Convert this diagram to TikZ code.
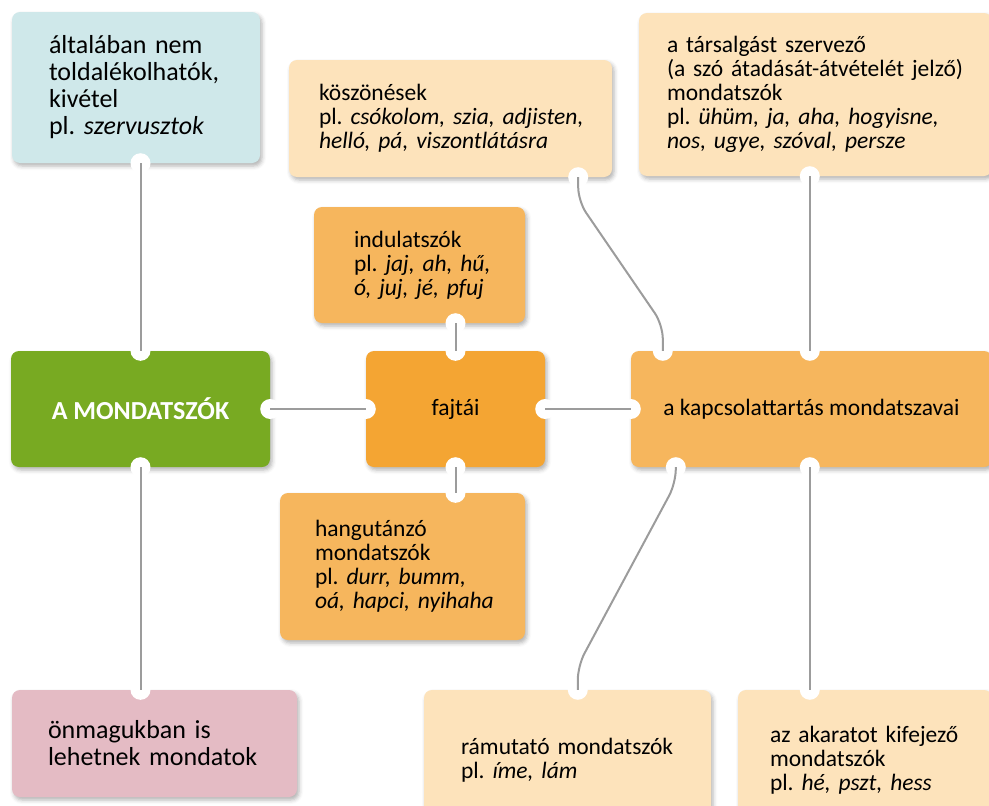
\documentclass[tikz,border=0pt]{standalone}
\usepackage{fontspec}
\setmainfont{Carlito}
\usetikzlibrary{shadows.blur}
\definecolor{tealpale}{HTML}{CFE8EA}
\definecolor{peachpale}{HTML}{FDE3BB}
\definecolor{leafgreen}{HTML}{78AA22}
\definecolor{deeporange}{HTML}{F4A533}
\definecolor{midorange}{HTML}{F6B65D}
\definecolor{rosepale}{HTML}{E4BBC4}
\definecolor{linkgray}{HTML}{9C9C9C}
\hyphenpenalty=10000
\exhyphenpenalty=10000
\frenchspacing
\tikzset{
  tile/.style={rounded corners=8pt, inner ysep=0pt, align=left,
    blur shadow={shadow xshift=2pt, shadow yshift=-3pt, shadow blur radius=4pt, shadow opacity=30}},
  notch/.style={fill=white},
  link/.style={draw=linkgray, line width=2pt},
}
\newcommand{\bigtxt}{\fontsize{26}{27}\selectfont}
\newcommand{\midtxt}{\fontsize{23.5}{24}\selectfont}
\newcommand{\boldtxt}{\fontsize{26}{27}\selectfont\bfseries}

\begin{document}
\begin{tikzpicture}[x=1pt,y=-1pt]
  \useasboundingbox (0,0) rectangle (989,806);
  % side notes
  \node[tile, fill=tealpale, font=\bigtxt, text width=174pt, inner xsep=37pt, minimum height=151pt] (alt) at (136,87.5)
    {általában~nem\\toldalékolhatók,\\kivétel\\pl.~\textit{szervusztok}};
  \node[tile, fill=rosepale, font=\bigtxt, text width=213pt, inner xsep=36pt, minimum height=107pt] (onm) at (154.5,743.5)
    {önmagukban~is\\lehetnek~mondatok};
  % main row
  \node[tile, fill=leafgreen, font=\boldtxt, text=white, align=center, minimum width=259pt, minimum height=116pt] (mond) at (140.5,409)
    {A MONDATSZÓK};
  \node[tile, fill=deeporange, font=\midtxt, align=center, minimum width=179pt, minimum height=116pt] (fajt) at (455.5,409)
    {fajtái};
  \node[tile, fill=midorange, font=\midtxt, align=center, minimum width=361pt, minimum height=116pt] (kap) at (811.5,409)
    {a kapcsolattartás mondatszavai};
  % kinds
  \node[tile, fill=midorange, font=\midtxt, text width=131pt, inner xsep=40pt, minimum height=116pt] (indul) at (419.5,265)
    {indulatszók\\pl.~\textit{jaj,~ah,~hű,}\\\textit{ó,~juj,~jé,~pfuj}};
  \node[tile, fill=midorange, font=\midtxt, text width=175pt, inner xsep=35pt, minimum height=147pt] (hang) at (402.5,566.5)
    {hangutánzó\\mondatszók\\pl.~\textit{durr,~bumm,}\\\textit{oá,~hapci,~nyihaha}};
  % contact words
  \node[tile, fill=peachpale, font=\midtxt, text width=263pt, inner xsep=30pt, minimum height=117pt] (koszon) at (450.5,118.5)
    {köszönések\\pl.~\textit{csókolom,~szia,~adjisten,}\\\textit{helló,~pá,~viszontlátásra}};
  \node[tile, fill=peachpale, font=\midtxt, text width=297pt, inner xsep=28pt, minimum height=163pt] (tars) at (815.5,94.5)
    {a~társalgást~szervező\\(a~szó~átadását-átvételét~jelző)\\mondatszók\\pl.~\textit{ühüm,~ja,~aha,~hogyisne,}\\\textit{nos,~ugye,~szóval,~persze}};
  \node[tile, fill=peachpale, font=\midtxt, text width=213pt, inner xsep=37pt, minimum height=140pt] (ram) at (567.5,760)
    {rámutató~mondatszók\\pl.~\textit{íme,~lám}};
  \node[tile, fill=peachpale, font=\midtxt, text width=190pt, inner xsep=32pt, minimum height=140pt] (akar) at (865,760)
    {az~akaratot~kifejező\\mondatszók\\pl.~\textit{hé,~pszt,~hess}};

  % notch points
  \coordinate (altS) at (mond.north |- alt.south);
  \coordinate (onmN) at (mond.south |- onm.north);
  \coordinate (indulS) at (fajt.north |- indul.south);
  \coordinate (hangN) at (fajt.south |- hang.north);
  \coordinate (kapN1) at ([xshift=32pt]kap.north west);
  \coordinate (kapN2) at ([xshift=179pt]kap.north west);
  \coordinate (kapS1) at ([xshift=45pt]kap.south west);
  \coordinate (kapS2) at ([xshift=179pt]kap.south west);
  \coordinate (koszS) at ([xshift=-34pt]koszon.south east);
  \coordinate (tarsS) at (kapN2 |- tars.south);
  \coordinate (ramN) at ([xshift=154pt]ram.north west);
  \coordinate (akarN) at (kapS2 |- akar.north);

  \foreach \p in {altS,onmN,indulS,hangN,kapN1,kapN2,kapS1,kapS2,koszS,tarsS,ramN,akarN,
                  mond.north,mond.south,mond.east,fajt.north,fajt.south,fajt.west,fajt.east,kap.west}
    \fill[notch] (\p) circle (10pt);

  % connectors
  \draw[link] (altS) -- (mond.north);
  \draw[link] (mond.south) -- (onmN);
  \draw[link] (mond.east) -- (fajt.west);
  \draw[link] (fajt.east) -- (kap.west);
  \draw[link] (indulS) -- (fajt.north);
  \draw[link] (fajt.south) -- (hangN);
  \draw[link] (tarsS) -- (kapN2);
  \draw[link] (kapS2) -- (akarN);
  \draw[link, rounded corners=14pt] (koszS) -- ([yshift=-24pt]koszS) -- ([yshift=26pt]kapN1) -- (kapN1);
  \draw[link, rounded corners=14pt] (kapS1) -- ([yshift=-16pt]kapS1) -- ([yshift=24pt]ramN) -- (ramN);
\end{tikzpicture}
\end{document}
